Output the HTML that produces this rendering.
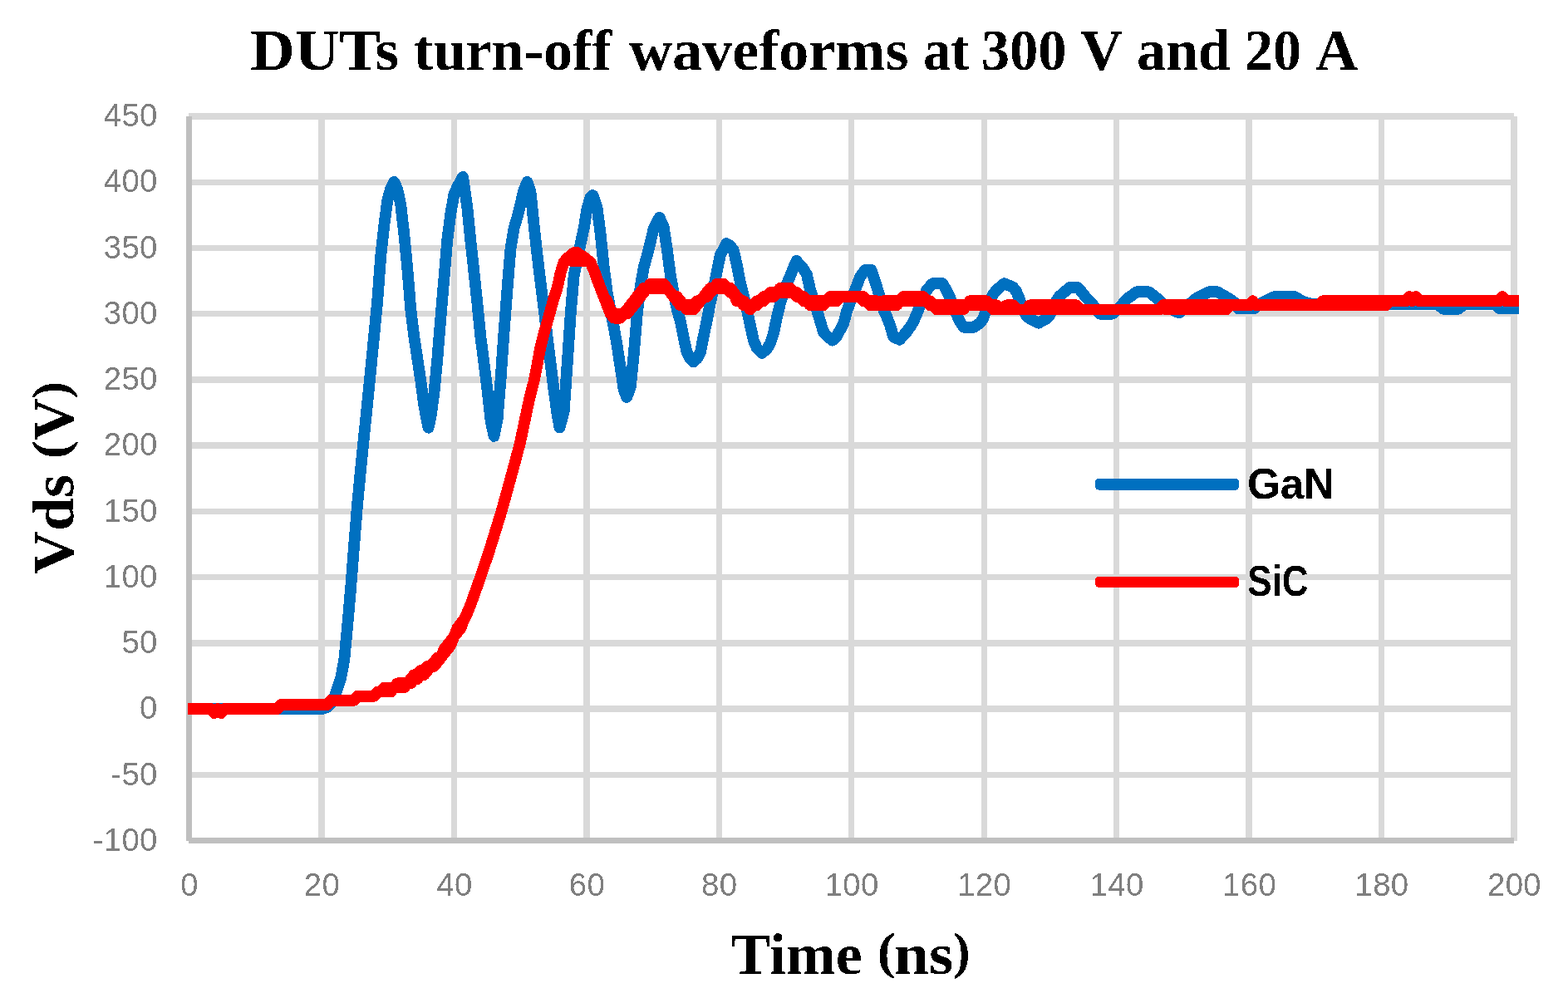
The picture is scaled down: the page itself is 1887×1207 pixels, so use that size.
<!DOCTYPE html>
<html lang="en">
<head>
<meta charset="utf-8">
<title>DUTs turn-off waveforms at 300 V and 20 A</title>
<style>
html,body{margin:0;padding:0;background:#fff;}
body{width:1887px;height:1207px;overflow:hidden;}
svg{display:block;}
.serif{font-family:"Liberation Serif","DejaVu Serif",serif;font-weight:bold;fill:#000;}
.tick{font-family:"Liberation Sans","DejaVu Sans",sans-serif;font-size:38.3px;fill:#7f7f7f;letter-spacing:0.4px;}
.leg{font-family:"Liberation Sans","DejaVu Sans",sans-serif;font-weight:bold;fill:#000;}
</style>
</head>
<body>
<svg width="1887" height="1207" viewBox="0 0 1887 1207">
<defs>
<filter id="bin" filterUnits="userSpaceOnUse" x="0" y="0" width="1887" height="1207" color-interpolation-filters="sRGB"><feComponentTransfer><feFuncA type="discrete" tableValues="0 1"/></feComponentTransfer></filter>
</defs>
<rect x="0" y="0" width="1887" height="1207" fill="#ffffff"/>

<g stroke="#d9d9d9" stroke-width="7.4" fill="none" shape-rendering="crispEdges">
<line x1="226.9" y1="140.00" x2="1822.0" y2="140.00"/>
<line x1="226.9" y1="219.23" x2="1822.0" y2="219.23"/>
<line x1="226.9" y1="298.45" x2="1822.0" y2="298.45"/>
<line x1="226.9" y1="377.68" x2="1822.0" y2="377.68"/>
<line x1="226.9" y1="456.91" x2="1822.0" y2="456.91"/>
<line x1="226.9" y1="536.14" x2="1822.0" y2="536.14"/>
<line x1="226.9" y1="615.36" x2="1822.0" y2="615.36"/>
<line x1="226.9" y1="694.59" x2="1822.0" y2="694.59"/>
<line x1="226.9" y1="773.82" x2="1822.0" y2="773.82"/>
<line x1="226.9" y1="853.05" x2="1822.0" y2="853.05"/>
<line x1="226.9" y1="932.27" x2="1822.0" y2="932.27"/>
<line x1="386.95" y1="140.0" x2="386.95" y2="1011.5"/>
<line x1="546.40" y1="140.0" x2="546.40" y2="1011.5"/>
<line x1="705.85" y1="140.0" x2="705.85" y2="1011.5"/>
<line x1="865.30" y1="140.0" x2="865.30" y2="1011.5"/>
<line x1="1024.75" y1="140.0" x2="1024.75" y2="1011.5"/>
<line x1="1184.20" y1="140.0" x2="1184.20" y2="1011.5"/>
<line x1="1343.65" y1="140.0" x2="1343.65" y2="1011.5"/>
<line x1="1503.10" y1="140.0" x2="1503.10" y2="1011.5"/>
<line x1="1662.55" y1="140.0" x2="1662.55" y2="1011.5"/>
<line x1="1822.00" y1="140.0" x2="1822.00" y2="1011.5"/>
</g>
<g stroke="#bfbfbf" stroke-width="7.0" fill="none" shape-rendering="crispEdges">
<line x1="227.5" y1="140.0" x2="227.5" y2="1011.8"/>
<line x1="227.1" y1="1011.5" x2="1822.0" y2="1011.5"/>
</g>
<path d="M226.0 853.0L230.0 853.0L234.0 853.0L238.0 853.0L242.0 853.0L246.0 853.0L250.0 853.0L254.0 853.0L258.0 853.0L262.0 853.0L266.1 853.0L270.1 853.0L274.1 853.0L278.1 853.0L282.1 853.0L286.1 853.0L290.1 853.0L294.1 853.0L298.1 853.0L302.1 853.0L306.1 853.0L310.1 853.0L314.1 853.0L318.1 853.0L322.1 853.0L326.1 853.0L330.1 853.0L334.1 853.0L338.1 853.0L342.1 853.0L346.1 853.0L350.2 853.0L354.2 853.0L358.2 853.0L362.2 853.0L366.2 853.0L370.2 853.0L374.2 853.0L378.2 853.0L382.2 853.0L388.0 853.0L390.2 852.2L394.2 850.7L398.2 846.3L402.2 839.4L406.2 828.1L410.2 815.9L414.2 794.7L418.2 752.8L422.2 706.6L426.2 655.3L430.3 604.6L434.3 562.4L438.3 523.0L442.3 483.7L446.3 443.7L450.3 402.6L454.3 361.2L458.3 307.2L462.3 271.4L466.3 241.0L470.3 226.4L474.2 218.9L478.3 227.8L482.3 246.8L486.3 281.5L490.3 323.2L494.3 372.3L498.3 405.0L502.3 431.4L506.3 457.9L510.4 488.7L515.5 514.7L518.4 501.9L522.4 473.2L526.4 431.1L530.4 382.1L534.4 335.0L538.4 287.7L542.4 256.9L546.4 233.9L550.4 224.7L554.4 217.6L557.1 212.8L562.4 250.1L566.4 290.1L570.4 327.0L574.4 364.9L578.4 405.4L582.4 436.3L586.5 469.4L590.5 505.6L594.5 524.9L598.5 505.5L602.5 457.2L606.5 399.7L610.5 348.0L614.5 299.1L618.5 274.8L622.5 261.5L626.5 245.2L630.5 228.7L634.4 218.9L638.5 230.8L642.5 269.8L646.5 306.5L650.5 339.5L654.5 371.6L658.5 404.1L662.5 436.8L666.5 468.9L670.6 498.8L673.5 514.4L678.6 496.0L682.6 439.3L686.6 379.1L690.6 332.0L694.6 312.0L698.6 293.4L702.6 275.3L706.6 250.5L710.6 237.4L713.4 235.0L718.6 250.2L722.6 281.0L726.6 319.9L730.6 351.6L734.6 372.5L738.6 393.0L742.6 415.4L746.6 441.9L750.7 469.0L754.2 477.9L758.7 466.3L762.7 426.9L766.7 378.7L770.7 344.9L774.7 322.0L778.7 307.6L782.7 291.4L786.7 275.1L790.7 267.4L793.6 261.8L798.7 273.3L802.7 299.4L806.7 330.0L810.7 352.8L814.7 372.1L818.7 386.2L822.7 406.1L826.8 424.6L830.8 431.8L834.4 435.6L838.8 431.5L842.8 424.5L846.8 404.2L850.8 385.3L854.8 364.6L858.8 346.5L862.8 326.5L866.8 307.1L870.8 299.6L874.3 293.1L878.8 295.8L882.8 301.1L886.8 318.9L890.8 339.7L894.8 356.0L898.8 372.3L902.8 391.0L906.9 409.6L910.9 419.1L916.8 424.9L918.9 423.3L922.9 420.1L926.9 413.3L930.9 401.3L934.9 382.0L938.9 365.4L942.9 352.9L946.9 341.9L950.9 332.2L954.9 322.5L958.4 314.0L962.9 319.1L966.9 323.6L970.9 330.4L974.9 347.9L978.9 360.2L982.9 372.7L986.9 385.9L991.0 399.5L995.0 404.1L999.0 407.4L1001.7 409.7L1007.0 404.4L1011.0 397.1L1015.0 389.8L1019.0 374.8L1023.0 364.0L1027.0 354.3L1031.0 344.2L1035.0 333.4L1041.0 325.0L1043.0 325.0L1048.6 325.0L1051.0 332.3L1055.0 344.4L1059.0 358.1L1063.0 372.0L1067.0 380.8L1071.1 391.1L1075.1 405.1L1079.1 407.1L1082.6 408.8L1087.1 403.8L1091.1 399.3L1095.1 393.8L1099.1 387.6L1103.1 378.3L1107.1 368.2L1111.1 358.8L1115.1 349.5L1119.1 344.6L1122.5 341.2L1127.1 341.2L1131.1 341.2L1134.4 341.2L1139.1 349.7L1143.1 357.8L1147.2 367.8L1151.2 378.2L1155.2 387.2L1159.9 393.8L1163.2 393.8L1167.2 393.8L1171.7 393.8L1175.2 391.5L1179.2 389.0L1183.2 383.3L1187.2 371.5L1191.2 362.8L1195.2 354.1L1199.2 349.1L1203.2 345.6L1208.3 341.2L1211.2 342.4L1215.2 344.0L1219.2 345.7L1223.2 350.9L1227.2 360.7L1231.3 372.0L1235.3 380.0L1239.3 383.5L1243.3 385.5L1247.3 387.4L1249.9 388.7L1255.3 385.7L1259.3 383.5L1263.3 379.1L1267.3 371.0L1271.3 361.7L1275.3 356.2L1279.3 352.8L1283.3 349.4L1287.2 346.1L1291.3 346.1L1295.3 346.1L1297.4 346.1L1303.3 353.4L1307.3 358.3L1311.4 362.7L1315.4 367.1L1319.4 372.1L1324.0 377.8L1327.4 377.8L1331.4 377.8L1335.4 377.8L1338.4 377.8L1343.4 373.5L1347.4 370.1L1351.4 365.4L1355.4 360.5L1359.4 357.4L1363.4 354.6L1368.1 351.3L1371.4 351.3L1375.4 351.3L1379.4 351.3L1382.6 351.3L1387.5 355.1L1391.5 358.3L1395.5 361.5L1399.5 365.5L1403.5 369.5L1407.5 371.4L1411.5 373.2L1415.5 374.9L1419.1 376.5L1423.5 372.8L1427.5 369.4L1431.5 366.0L1435.5 362.6L1439.5 359.3L1443.5 356.8L1447.5 354.8L1451.5 352.9L1454.8 351.3L1459.5 351.3L1465.0 351.3L1467.5 352.7L1471.6 355.0L1475.6 357.2L1479.6 359.7L1483.6 362.4L1487.6 365.8L1490.4 371.4L1495.6 371.4L1499.6 371.4L1503.6 371.4L1509.1 371.4L1511.6 369.4L1515.6 366.3L1519.6 363.7L1523.6 361.7L1527.6 359.7L1531.6 357.8L1536.3 356.4L1539.6 356.4L1543.6 356.4L1547.6 356.4L1551.7 356.4L1556.7 356.4L1559.7 358.0L1563.7 360.3L1567.7 362.5L1571.7 363.9L1575.7 365.1L1580.0 366.3L1583.7 366.3L1587.7 366.3L1591.7 366.3L1595.7 366.3L1599.7 366.3L1603.7 366.3L1607.7 366.3L1611.7 366.3L1615.7 366.3L1619.7 366.3L1623.7 366.3L1627.8 366.3L1631.8 366.3L1635.8 366.3L1639.8 366.3L1643.8 366.3L1647.8 366.3L1651.8 366.3L1655.8 366.3L1659.8 366.3L1663.8 366.3L1667.8 366.3L1671.8 366.3L1675.8 366.3L1679.8 366.3L1683.8 366.3L1687.8 366.3L1691.8 366.3L1695.8 366.3L1699.8 366.3L1703.8 366.3L1707.8 366.3L1711.9 366.3L1715.9 366.3L1719.9 366.3L1723.9 366.3L1727.9 366.3L1730.0 366.3L1737.0 371.7L1739.9 371.7L1743.9 371.7L1747.9 371.7L1751.9 371.7L1755.0 371.7L1759.9 367.9L1762.0 366.3L1767.9 366.3L1771.9 366.3L1775.9 366.3L1779.9 366.3L1783.9 366.3L1788.0 366.3L1792.0 366.3L1796.0 366.3L1800.0 366.3L1805.0 371.4L1808.0 371.4L1812.0 371.4L1816.0 371.4L1820.0 371.4L1824.0 371.4L1827.9 371.4" fill="none" stroke="#0070c0" stroke-width="13.8" stroke-linejoin="round" stroke-linecap="butt" shape-rendering="crispEdges"/>
<path d="M226.0 853.0L230.0 853.0L234.0 853.0L238.0 853.0L242.0 853.0L246.0 853.0L250.0 853.0L254.0 853.0L258.0 858.1L262.0 853.0L266.1 858.1L270.1 853.0L274.1 853.0L278.1 853.0L282.1 853.0L286.1 853.0L290.1 853.0L294.1 853.0L298.1 853.0L302.1 853.0L306.1 853.0L310.1 853.0L314.1 853.0L318.1 853.0L322.1 853.0L326.1 853.0L330.1 853.0L334.1 853.0L338.1 847.9L342.1 847.9L346.1 847.9L350.2 847.9L354.2 847.9L358.2 847.9L362.2 847.9L366.2 847.9L370.2 847.9L374.2 847.9L378.2 847.9L382.2 847.9L386.2 847.9L390.2 847.9L394.2 847.9L398.2 842.8L402.2 842.8L406.2 842.8L410.2 842.8L414.2 842.8L418.2 842.8L422.2 842.8L426.2 842.8L430.3 837.7L434.3 837.7L438.3 837.7L442.3 837.7L446.3 837.7L450.3 837.7L454.3 832.5L458.3 832.5L462.3 832.5L466.3 832.5L470.3 832.5L474.3 827.4L478.3 827.4L482.3 827.4L486.3 827.4L490.3 822.3L494.3 822.3L498.3 817.2L502.3 817.2L506.3 812.1L510.4 812.1L514.4 807.0L518.4 801.9L522.4 801.9L526.4 796.8L530.4 791.6L534.4 786.5L538.4 781.4L542.4 776.3L546.4 766.1L550.4 761.0L554.4 755.9L558.4 745.6L562.4 737.3L566.4 727.7L570.4 716.5L574.4 705.2L578.4 693.9L582.4 681.9L586.5 669.8L590.5 657.7L594.5 644.7L598.5 631.7L602.5 618.7L606.5 604.7L610.5 590.2L614.5 575.7L618.5 560.9L622.5 546.1L626.5 530.2L630.5 511.2L634.5 492.2L638.5 474.3L642.5 459.3L646.5 438.9L650.5 417.3L654.5 401.4L658.5 387.9L662.5 373.4L666.5 359.0L670.6 346.7L674.6 328.4L678.6 315.6L682.6 310.7L686.6 313.7L690.6 314.1L694.6 314.1L698.6 314.1L702.6 314.1L706.6 314.1L710.6 315.9L714.6 324.8L718.6 336.2L722.6 346.5L726.6 356.9L730.6 367.3L734.6 377.5L738.6 382.6L742.6 382.6L746.6 382.6L750.7 377.5L754.7 377.5L758.7 372.4L762.7 367.3L766.7 362.2L770.7 357.0L774.7 351.9L778.7 346.8L782.7 346.8L786.7 346.8L790.7 346.8L794.7 346.8L798.7 346.8L802.7 346.8L806.7 351.9L810.7 357.0L814.7 362.2L818.7 367.3L822.7 367.3L826.8 372.4L830.8 372.4L834.8 372.4L838.8 367.3L842.8 362.2L846.8 357.0L850.8 357.0L854.8 351.9L858.8 346.8L862.8 346.8L866.8 346.8L870.8 346.8L874.8 346.8L878.8 351.9L882.8 351.9L886.8 362.2L890.8 362.2L894.8 367.3L898.8 367.3L902.8 372.4L906.9 367.3L910.9 367.3L914.9 362.2L918.9 362.2L922.9 357.0L926.9 357.0L930.9 357.0L934.9 351.9L938.9 351.9L942.9 351.9L946.9 351.9L950.9 351.9L954.9 351.9L958.9 357.0L962.9 357.0L966.9 362.2L970.9 362.2L974.9 367.3L978.9 367.3L982.9 367.3L986.9 367.3L991.0 367.3L995.0 362.2L999.0 362.2L1003.0 362.2L1007.0 362.2L1011.0 357.0L1015.0 357.0L1019.0 357.0L1023.0 357.0L1027.0 357.0L1031.0 357.0L1035.0 357.0L1039.0 362.2L1043.0 362.2L1047.0 367.3L1051.0 367.3L1055.0 367.3L1059.0 367.3L1063.0 367.3L1067.0 367.3L1071.1 367.3L1075.1 367.3L1079.1 367.3L1083.1 362.2L1087.1 362.2L1091.1 362.2L1095.1 362.2L1099.1 362.2L1103.1 362.2L1107.1 362.2L1111.1 362.2L1115.1 362.2L1119.1 367.3L1123.1 367.3L1127.1 372.4L1131.1 372.4L1135.1 372.4L1139.1 372.4L1143.1 372.4L1147.2 372.4L1151.2 372.4L1155.2 372.4L1159.2 372.4L1163.2 367.3L1167.2 367.3L1171.2 367.3L1175.2 367.3L1179.2 367.3L1183.2 367.3L1187.2 367.3L1191.2 367.3L1195.2 372.4L1199.2 372.4L1203.2 372.4L1207.2 372.4L1211.2 372.4L1215.2 372.4L1219.2 372.4L1223.2 372.4L1227.2 372.4L1231.3 372.4L1235.3 372.4L1239.3 372.4L1243.3 372.4L1247.3 372.4L1251.3 372.4L1255.3 372.4L1259.3 372.4L1263.3 372.4L1267.3 372.4L1271.3 372.4L1275.3 372.4L1279.3 372.4L1283.3 372.4L1287.3 372.4L1291.3 372.4L1295.3 372.4L1299.3 372.4L1303.3 372.4L1307.3 372.4L1311.4 372.4L1315.4 372.4L1319.4 372.4L1323.4 372.4L1327.4 372.4L1331.4 372.4L1335.4 372.4L1339.4 372.4L1343.4 372.4L1347.4 372.4L1351.4 372.4L1355.4 372.4L1359.4 372.4L1363.4 372.4L1367.4 372.4L1371.4 372.4L1375.4 372.4L1379.4 372.4L1383.4 372.4L1387.5 372.4L1391.5 372.4L1395.5 372.4L1399.5 367.3L1403.5 372.4L1407.5 372.4L1411.5 372.4L1415.5 372.4L1419.5 372.4L1423.5 372.4L1427.5 372.4L1431.5 372.4L1435.5 372.4L1439.5 372.4L1443.5 372.4L1447.5 372.4L1451.5 372.4L1455.5 372.4L1459.5 372.4L1463.5 372.4L1467.5 372.4L1471.6 372.4L1475.6 372.4L1479.6 367.3L1483.6 367.3L1487.6 367.3L1491.6 367.3L1495.6 367.3L1499.6 367.3L1503.6 367.3L1507.6 362.2L1511.6 367.3L1515.6 367.3L1519.6 367.3L1523.6 367.3L1527.6 367.3L1531.6 367.3L1535.6 367.3L1539.6 367.3L1543.6 367.3L1547.6 367.3L1551.7 367.3L1555.7 367.3L1559.7 367.3L1563.7 367.3L1567.7 367.3L1571.7 367.3L1575.7 367.3L1579.7 367.3L1583.7 367.3L1587.7 367.3L1591.7 367.3L1595.7 367.3L1599.7 367.3L1603.7 367.3L1607.7 367.3L1611.7 367.3L1615.7 367.3L1619.7 367.3L1623.7 367.3L1627.8 367.3L1631.8 367.3L1635.8 367.3L1639.8 367.3L1643.8 367.3L1647.8 367.3L1651.8 367.3L1655.8 367.3L1659.8 367.3L1663.8 367.3L1667.8 367.3L1671.8 362.2L1675.8 362.2L1679.8 362.2L1683.8 362.2L1687.8 362.2L1691.8 362.2L1695.8 357.0L1699.8 362.2L1703.8 357.0L1707.8 362.2L1711.9 362.2L1715.9 362.2L1719.9 362.2L1723.9 362.2L1727.9 362.2L1731.9 362.2L1735.9 362.2L1739.9 362.2L1743.9 362.2L1747.9 362.2L1751.9 362.2L1755.9 362.2L1759.9 362.2L1763.9 362.2L1767.9 362.2L1771.9 362.2L1775.9 362.2L1779.9 362.2L1783.9 362.2L1788.0 362.2L1792.0 362.2L1796.0 362.2L1800.0 362.2L1804.0 362.2L1808.0 357.0L1812.0 362.2L1816.0 362.2L1820.0 362.2L1824.0 362.2L1827.9 362.2 M226.0 853.0L230.0 853.0L234.0 853.0L238.0 853.0L242.0 853.0L246.0 853.0L250.0 853.0L254.0 853.0L258.0 858.1L262.0 853.0L266.1 858.1L270.1 853.0L274.1 853.0L278.1 853.0L282.1 853.0L286.1 853.0L290.1 853.0L294.1 853.0L298.1 853.0L302.1 853.0L306.1 853.0L310.1 853.0L314.1 853.0L318.1 853.0L322.1 853.0L326.1 853.0L330.1 853.0L334.1 853.0L338.1 847.9L342.1 847.9L346.1 847.9L350.2 847.9L354.2 847.9L358.2 847.9L362.2 847.9L366.2 847.9L370.2 847.9L374.2 847.9L378.2 847.9L382.2 847.9L386.2 847.9L390.2 847.9L394.2 847.9L398.2 842.8L402.2 842.8L406.2 842.8L410.2 842.8L414.2 842.8L418.2 842.8L422.2 842.8L426.2 842.8L430.3 837.7L434.3 837.7L438.3 837.7L442.3 837.7L446.3 837.7L450.3 837.7L454.3 832.5L458.3 832.5L462.3 827.4L466.3 827.4L470.3 827.4L474.3 827.4L478.3 822.3L482.3 822.3L486.3 822.3L490.3 822.3L494.3 817.2L498.3 812.1L502.3 812.1L506.3 807.0L510.4 807.0L514.4 801.9L518.4 801.9L522.4 796.8L526.4 791.6L530.4 791.6L534.4 781.4L538.4 776.3L542.4 771.2L546.4 766.1L550.4 755.9L554.4 750.7L558.4 745.6L562.4 737.3L566.4 727.7L570.4 716.5L574.4 705.2L578.4 693.9L582.4 681.9L586.5 669.8L590.5 657.7L594.5 644.7L598.5 631.7L602.5 618.7L606.5 604.7L610.5 590.2L614.5 575.7L618.5 560.9L622.5 546.1L626.5 530.2L630.5 511.2L634.5 492.2L638.5 474.3L642.5 459.3L646.5 438.9L650.5 417.3L654.5 401.4L658.5 387.9L662.5 373.4L666.5 359.0L670.6 346.7L674.6 328.4L678.6 315.6L682.6 310.7L686.6 308.0L690.6 304.1L694.6 304.1L698.6 307.0L702.6 309.4L706.6 312.5L710.6 315.9L714.6 324.8L718.6 336.2L722.6 346.5L726.6 356.9L730.6 362.2L734.6 372.4L738.6 377.5L742.6 377.5L746.6 377.5L750.7 377.5L754.7 372.4L758.7 367.3L762.7 362.2L766.7 357.0L770.7 351.9L774.7 346.8L778.7 346.8L782.7 341.7L786.7 341.7L790.7 341.7L794.7 341.7L798.7 341.7L802.7 346.8L806.7 351.9L810.7 357.0L814.7 357.0L818.7 362.2L822.7 367.3L826.8 367.3L830.8 367.3L834.8 367.3L838.8 362.2L842.8 362.2L846.8 357.0L850.8 351.9L854.8 346.8L858.8 346.8L862.8 341.7L866.8 341.7L870.8 341.7L874.8 346.8L878.8 346.8L882.8 351.9L886.8 357.0L890.8 362.2L894.8 362.2L898.8 367.3L902.8 367.3L906.9 367.3L910.9 362.2L914.9 362.2L918.9 357.0L922.9 357.0L926.9 351.9L930.9 351.9L934.9 351.9L938.9 346.8L942.9 346.8L946.9 346.8L950.9 346.8L954.9 351.9L958.9 351.9L962.9 357.0L966.9 357.0L970.9 362.2L974.9 362.2L978.9 362.2L982.9 362.2L986.9 362.2L991.0 362.2L995.0 362.2L999.0 357.0L1003.0 357.0L1007.0 357.0L1011.0 357.0L1015.0 357.0L1019.0 357.0L1023.0 357.0L1027.0 357.0L1031.0 357.0L1035.0 357.0L1039.0 357.0L1043.0 362.2L1047.0 362.2L1051.0 362.2L1055.0 362.2L1059.0 367.3L1063.0 362.2L1067.0 362.2L1071.1 362.2L1075.1 362.2L1079.1 362.2L1083.1 362.2L1087.1 357.0L1091.1 357.0L1095.1 357.0L1099.1 357.0L1103.1 357.0L1107.1 357.0L1111.1 357.0L1115.1 362.2L1119.1 362.2L1123.1 367.3L1127.1 367.3L1131.1 367.3L1135.1 367.3L1139.1 367.3L1143.1 367.3L1147.2 367.3L1151.2 367.3L1155.2 367.3L1159.2 367.3L1163.2 367.3L1167.2 362.2L1171.2 362.2L1175.2 362.2L1179.2 362.2L1183.2 362.2L1187.2 362.2L1191.2 367.3L1195.2 367.3L1199.2 367.3L1203.2 372.4L1207.2 372.4L1211.2 367.3L1215.2 367.3L1219.2 367.3L1223.2 372.4L1227.2 372.4L1231.3 372.4L1235.3 372.4L1239.3 367.3L1243.3 367.3L1247.3 367.3L1251.3 367.3L1255.3 367.3L1259.3 367.3L1263.3 367.3L1267.3 367.3L1271.3 367.3L1275.3 367.3L1279.3 367.3L1283.3 367.3L1287.3 367.3L1291.3 367.3L1295.3 367.3L1299.3 372.4L1303.3 372.4L1307.3 372.4L1311.4 372.4L1315.4 372.4L1319.4 372.4L1323.4 372.4L1327.4 372.4L1331.4 372.4L1335.4 372.4L1339.4 372.4L1343.4 372.4L1347.4 372.4L1351.4 372.4L1355.4 372.4L1359.4 372.4L1363.4 372.4L1367.4 372.4L1371.4 372.4L1375.4 372.4L1379.4 372.4L1383.4 372.4L1387.5 372.4L1391.5 372.4L1395.5 372.4L1399.5 367.3L1403.5 367.3L1407.5 367.3L1411.5 367.3L1415.5 367.3L1419.5 367.3L1423.5 367.3L1427.5 367.3L1431.5 367.3L1435.5 367.3L1439.5 367.3L1443.5 367.3L1447.5 367.3L1451.5 367.3L1455.5 367.3L1459.5 367.3L1463.5 367.3L1467.5 367.3L1471.6 367.3L1475.6 367.3L1479.6 367.3L1483.6 367.3L1487.6 367.3L1491.6 367.3L1495.6 367.3L1499.6 367.3L1503.6 367.3L1507.6 362.2L1511.6 367.3L1515.6 367.3L1519.6 367.3L1523.6 367.3L1527.6 367.3L1531.6 367.3L1535.6 367.3L1539.6 367.3L1543.6 367.3L1547.6 367.3L1551.7 367.3L1555.7 367.3L1559.7 367.3L1563.7 367.3L1567.7 367.3L1571.7 367.3L1575.7 367.3L1579.7 367.3L1583.7 367.3L1587.7 367.3L1591.7 362.2L1595.7 362.2L1599.7 362.2L1603.7 362.2L1607.7 362.2L1611.7 362.2L1615.7 362.2L1619.7 362.2L1623.7 362.2L1627.8 362.2L1631.8 362.2L1635.8 362.2L1639.8 362.2L1643.8 362.2L1647.8 362.2L1651.8 362.2L1655.8 362.2L1659.8 362.2L1663.8 362.2L1667.8 362.2L1671.8 362.2L1675.8 362.2L1679.8 362.2L1683.8 362.2L1687.8 362.2L1691.8 362.2L1695.8 357.0L1699.8 362.2L1703.8 357.0L1707.8 362.2L1711.9 362.2L1715.9 362.2L1719.9 362.2L1723.9 362.2L1727.9 362.2L1731.9 362.2L1735.9 362.2L1739.9 362.2L1743.9 362.2L1747.9 362.2L1751.9 362.2L1755.9 362.2L1759.9 362.2L1763.9 362.2L1767.9 362.2L1771.9 362.2L1775.9 362.2L1779.9 362.2L1783.9 362.2L1788.0 362.2L1792.0 362.2L1796.0 362.2L1800.0 362.2L1804.0 362.2L1808.0 357.0L1812.0 362.2L1816.0 362.2L1820.0 362.2L1824.0 362.2L1827.9 362.2" fill="none" stroke="#ff0000" stroke-width="13.8" stroke-linejoin="round" stroke-linecap="butt" shape-rendering="crispEdges"/>
<rect x="1318" y="575.9" width="173.1" height="13.8" rx="4.5" fill="#0070c0" shape-rendering="crispEdges"/>
<rect x="1318" y="693.6" width="173.1" height="13.4" rx="4.5" fill="#ff0000" shape-rendering="crispEdges"/>
<g filter="url(#bin)">
<text class="leg"><tspan x="1500.93" y="599.7" font-size="52.0" textLength="105.12" lengthAdjust="spacingAndGlyphs">GaN</tspan></text>
<text class="leg"><tspan x="1501.21" y="716.6" font-size="52.0" textLength="73.32" lengthAdjust="spacingAndGlyphs">SiC</tspan></text>
<text class="tick" x="189.8" y="152.2" text-anchor="end">450</text>
<text class="tick" x="189.8" y="231.4" text-anchor="end">400</text>
<text class="tick" x="189.8" y="310.7" text-anchor="end">350</text>
<text class="tick" x="189.8" y="389.9" text-anchor="end">300</text>
<text class="tick" x="189.8" y="469.1" text-anchor="end">250</text>
<text class="tick" x="189.8" y="548.3" text-anchor="end">200</text>
<text class="tick" x="189.8" y="627.6" text-anchor="end">150</text>
<text class="tick" x="189.8" y="706.8" text-anchor="end">100</text>
<text class="tick" x="189.8" y="786.0" text-anchor="end">50</text>
<text class="tick" x="189.8" y="865.2" text-anchor="end">0</text>
<text class="tick" x="189.8" y="944.5" text-anchor="end">-50</text>
<text class="tick" x="189.8" y="1023.7" text-anchor="end">-100</text>
<text class="tick" x="228.0" y="1077.6" text-anchor="middle">0</text>
<text class="tick" x="387.4" y="1077.6" text-anchor="middle">20</text>
<text class="tick" x="546.9" y="1077.6" text-anchor="middle">40</text>
<text class="tick" x="706.4" y="1077.6" text-anchor="middle">60</text>
<text class="tick" x="865.8" y="1077.6" text-anchor="middle">80</text>
<text class="tick" x="1025.2" y="1077.6" text-anchor="middle">100</text>
<text class="tick" x="1184.7" y="1077.6" text-anchor="middle">120</text>
<text class="tick" x="1344.2" y="1077.6" text-anchor="middle">140</text>
<text class="tick" x="1503.6" y="1077.6" text-anchor="middle">160</text>
<text class="tick" x="1663.0" y="1077.6" text-anchor="middle">180</text>
<text class="tick" x="1822.5" y="1077.6" text-anchor="middle">200</text>
<text class="serif"><tspan x="300.94" y="84.2" font-size="70.5" textLength="179.18" lengthAdjust="spacingAndGlyphs">DUTs</tspan> <tspan x="498.00" y="84.2" font-size="70.5" textLength="237.88" lengthAdjust="spacingAndGlyphs">turn-off</tspan> <tspan x="757.00" y="84.2" font-size="70.5" textLength="336.53" lengthAdjust="spacingAndGlyphs">waveforms</tspan> <tspan x="1110.90" y="84.2" font-size="70.5" textLength="55.69" lengthAdjust="spacingAndGlyphs">at</tspan> <tspan x="1180.78" y="84.2" font-size="70.5" textLength="102.79" lengthAdjust="spacingAndGlyphs">300</tspan> <tspan x="1299.90" y="84.2" font-size="70.5" textLength="51.13" lengthAdjust="spacingAndGlyphs">V</tspan> <tspan x="1367.91" y="84.2" font-size="70.5" textLength="112.85" lengthAdjust="spacingAndGlyphs">and</tspan> <tspan x="1498.01" y="84.2" font-size="70.5" textLength="68.01" lengthAdjust="spacingAndGlyphs">20</tspan> <tspan x="1583.00" y="84.2" font-size="70.5" textLength="51.13" lengthAdjust="spacingAndGlyphs">A</tspan></text>
<text class="serif"><tspan x="879.48" y="1171.8" font-size="70.0" textLength="158.02" lengthAdjust="spacingAndGlyphs">Time</tspan> <tspan x="1055.88" y="1165.1" font-size="61.5" textLength="21.99" lengthAdjust="spacingAndGlyphs">(</tspan><tspan x="1076.04" y="1171.8" font-size="70.0" textLength="71.40" lengthAdjust="spacingAndGlyphs">ns</tspan><tspan x="1146.99" y="1165.1" font-size="61.5" textLength="20.61" lengthAdjust="spacingAndGlyphs">)</tspan></text>
<text class="serif" transform="translate(88.2 690.2) rotate(-90)"><tspan x="-1.03" y="0.0" font-size="70.0" textLength="120.42" lengthAdjust="spacingAndGlyphs">Vds</tspan> <tspan x="138.06" y="-6.7" font-size="61.5" textLength="22.12" lengthAdjust="spacingAndGlyphs">(</tspan><tspan x="160.20" y="0.0" font-size="70.0" textLength="50.77" lengthAdjust="spacingAndGlyphs">V</tspan><tspan x="210.41" y="-6.7" font-size="61.5" textLength="20.36" lengthAdjust="spacingAndGlyphs">)</tspan></text>
</g>
</svg>
</body>
</html>
